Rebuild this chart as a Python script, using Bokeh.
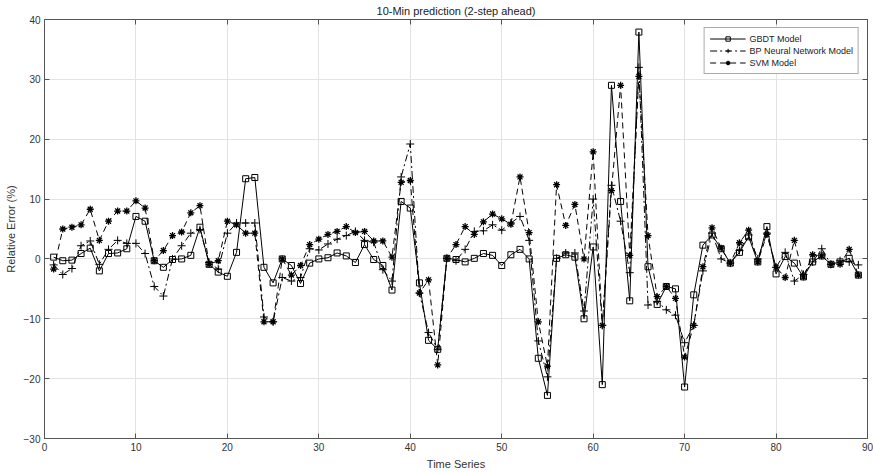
from bokeh.plotting import figure
from bokeh.models import Range1d, LinearAxis, FixedTicker, Legend, LegendItem
from bokeh.embed import file_html
from bokeh.resources import INLINE

x = list(range(1, 90))

gbdt = [0.3, -0.3, -0.2, 0.9, 1.8, -2.0, 0.9, 1.0, 1.7, 7.1,
        6.3, -0.3, -1.4, -0.1, 0.0, 0.6, 5.3, -0.9, -2.2, -2.9,
        1.1, 13.4, 13.6, -1.4, -4.0, 0.0, -1.1, -4.1, -0.7, 0.0,
        0.2, 1.0, 0.5, -0.6, 2.4, -0.1, -1.1, -5.2, 9.6, 8.5,
        -4.0, -13.6, -15.1, 0.1, -0.1, -0.5, 0.1, 0.9, 0.6, -1.1,
        0.7, 1.6, 0.0, -16.6, -22.8, 0.1, 0.7, 0.3, -10.0, 2.0,
        -21.0, 29.0, 9.6, -7.0, 37.9, -1.3, -7.6, -4.6, -5.0, -21.4,
        -6.0, 2.3, 4.0, 1.7, -0.7, 1.1, 3.7, -0.5, 5.4, -2.5,
        0.4, -0.7, -3.0, -0.5, 0.5, -0.9, -0.5, 0.1, -2.7]

bp = [-1.0, -2.6, -1.6, 2.2, 3.0, -0.9, 1.6, 3.1, 2.6, 2.6,
      0.9, -4.6, -6.2, 0.0, 2.2, 4.3, 4.9, -0.6, -1.7, 4.3,
      6.0, 6.0, 6.0, -9.7, -10.5, -3.1, -3.7, -3.1, 1.7, 1.5,
      2.5, 3.3, 3.9, 4.6, 3.1, 2.8, -1.8, -3.7, 13.7, 19.2,
      -5.7, -12.3, -15.1, 0.1, -0.3, 1.6, 4.6, 4.7, 5.7, 4.8,
      6.0, 7.1, 3.1, -13.7, -19.7, 0.1, 1.0, 1.0, -8.7, 10.0,
      -11.1, 12.3, 6.3, -2.3, 32.0, -7.7, -7.1, -8.5, -9.4, -14.0,
      -11.1, -2.0, 4.3, 0.0, -0.7, 1.4, 4.0, 0.0, 4.3, -1.4,
      1.1, -3.7, -2.6, -0.5, 1.7, -0.9, -0.3, -0.5, -1.0]

svm = [-1.7, 5.0, 5.3, 5.7, 8.3, 3.1, 6.3, 8.0, 8.0, 9.7,
       8.5, -0.3, 1.4, 3.9, 4.5, 7.7, 8.9, -0.9, -0.3, 6.3,
       5.7, 4.3, 4.3, -10.5, -10.5, 0.0, -2.7, -1.1, 2.4, 3.3,
       4.1, 4.6, 5.4, 4.4, 4.6, 3.0, 3.0, 0.3, 12.8, 13.1,
       -5.7, -3.5, -17.7, 0.1, 2.4, 5.4, 4.1, 6.2, 7.5, 6.7,
       5.8, 13.7, 4.4, -10.5, -17.9, 12.4, 5.6, 9.1, 0.0, 17.9,
       -11.1, 11.4, 29.0, 0.6, 30.5, 3.9, -6.3, -4.6, -6.6, -16.4,
       -11.1, -1.3, 5.2, 1.8, -0.7, 2.7, 4.8, -0.5, 4.1, -1.4,
       -3.1, 3.1, -3.0, 0.7, 0.5, -0.9, -0.9, 1.6, -2.7]

x_ticks = [0, 10, 20, 30, 40, 50, 60, 70, 80, 90]
y_ticks = [-30, -20, -10, 0, 10, 20, 30, 40]

FONT = "Liberation Sans"
AX = "#555555"
TXT = "#333333"

p = figure(width=873, height=472, output_backend="svg", toolbar_location=None,
           x_range=Range1d(0, 90), y_range=Range1d(-30, 40),
           min_border_left=44, min_border_right=6, min_border_top=4, min_border_bottom=8)

p.title.text = "10-Min prediction (2-step ahead)"
p.title.align = "center"
p.title.text_font = FONT
p.title.text_font_size = "11px"
p.title.text_font_style = "normal"
p.title.text_color = "#222222"
p.title.standoff = 5

p.outline_line_color = AX
p.background_fill_color = "white"
p.border_fill_color = "white"

for ax in (p.xaxis[0], p.yaxis[0]):
    ax.major_label_text_font = FONT
    ax.major_label_text_font_size = "10px"
    ax.major_label_text_color = TXT
    ax.axis_label_text_font = FONT
    ax.axis_label_text_font_size = "11px"
    ax.axis_label_text_font_style = "normal"
    ax.axis_label_text_color = TXT
    ax.axis_line_color = AX
    ax.major_tick_line_color = AX
    ax.major_tick_in = 5
    ax.major_tick_out = 0
    ax.minor_tick_line_color = None
    ax.major_label_standoff = 4
    ax.axis_label_standoff = 4

p.xaxis[0].ticker = FixedTicker(ticks=x_ticks)
p.yaxis[0].ticker = FixedTicker(ticks=y_ticks)
p.xaxis[0].axis_label = "Time Series"
p.yaxis[0].axis_label = "Relative Error (%)"

for loc, ticks in (("above", x_ticks), ("right", y_ticks)):
    a = LinearAxis(ticker=FixedTicker(ticks=ticks))
    a.major_label_text_font_size = "0px"
    a.major_label_standoff = 0
    a.axis_line_color = AX
    a.major_tick_line_color = AX
    a.major_tick_in = 5
    a.major_tick_out = 0
    a.minor_tick_line_color = None
    p.add_layout(a, loc)

p.xgrid.ticker = FixedTicker(ticks=x_ticks)
p.ygrid.ticker = FixedTicker(ticks=y_ticks)
p.grid.grid_line_color = "#e3e3e3"
p.grid.grid_line_width = 1

l1 = p.line(x, gbdt, line_color="black", line_width=1)
m1 = p.scatter(x, gbdt, marker="square", size=6, line_color="black", fill_color=None, line_width=1)
l2 = p.line(x, bp, line_color="black", line_width=1, line_dash="7 3 2 3")
m2 = p.scatter(x, bp, marker="cross", size=8, line_color="black", line_width=1)
l3 = p.line(x, svm, line_color="black", line_width=1, line_dash="6 4")
m3 = p.scatter(x, svm, marker="asterisk", size=7, line_color="black", line_width=1.3)

legend = Legend(items=[
    LegendItem(label="GBDT Model", renderers=[l1, m1]),
    LegendItem(label="BP Neural Network Model", renderers=[l2, m2]),
    LegendItem(label="SVM Model", renderers=[l3, m3]),
], location="top_right")
legend.label_text_font = FONT
legend.label_text_font_size = "9px"
legend.label_text_color = "#222222"
legend.border_line_color = AX
legend.border_line_width = 1
legend.background_fill_alpha = 1
legend.glyph_width = 36
legend.glyph_height = 11
legend.label_height = 11
legend.label_standoff = 4
legend.spacing = 1
legend.padding = 5
legend.margin = 8
p.add_layout(legend, "center")

open("out.html", "w").write(file_html(p, INLINE))
